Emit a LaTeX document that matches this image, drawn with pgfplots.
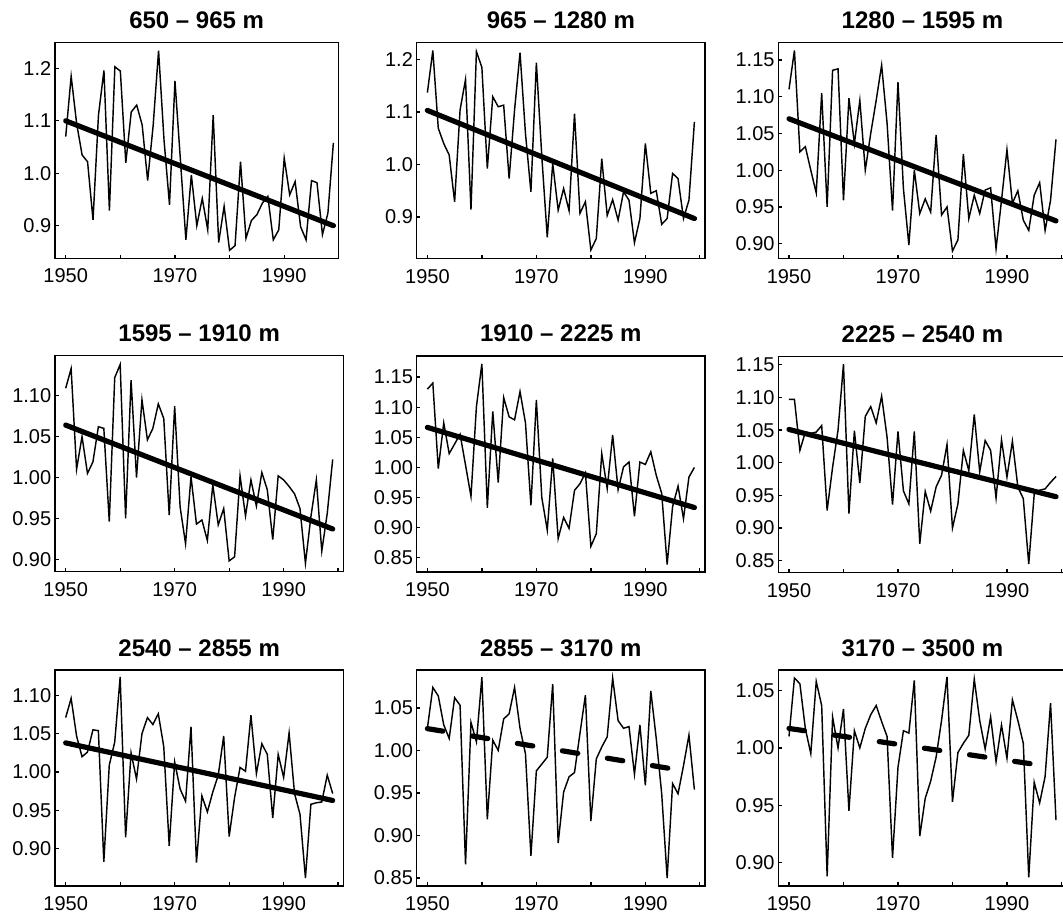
\documentclass[border=0pt]{standalone}
\usepackage{fontspec}
\setmainfont{Liberation Sans}
\usepackage{pgfplots}
\pgfplotsset{compat=1.18}
\usepackage{pgfplotstable}

\pgfplotstableread{
year p1 p2 p3 p4 p5 p6 p7 p8 p9
1950 1.070 1.137 1.110 1.109 1.130 1.097 1.071 1.026 1.010
1951 1.185 1.217 1.163 1.133 1.140 1.097 1.096 1.074 1.061
1952 1.095 1.069 1.025 1.010 0.998 1.019 1.047 1.064 1.056
1953 1.035 1.040 1.032 1.050 1.074 1.047 1.020 1.030 1.017
1954 1.022 1.018 1.000 1.005 1.023 1.045 1.026 1.014 0.995
1955 0.911 0.929 0.969 1.019 1.039 1.047 1.055 1.062 1.058
1956 1.111 1.104 1.105 1.062 1.055 1.057 1.054 1.053 1.037
1957 1.196 1.162 0.950 1.060 1.004 0.927 0.883 0.866 0.888
1958 0.929 0.914 1.136 0.946 0.952 0.993 1.009 1.033 1.027
1959 1.203 1.215 1.138 1.122 1.101 1.050 1.039 1.010 1.000
1960 1.195 1.185 0.959 1.138 1.172 1.151 1.124 1.086 1.034
1961 1.020 0.992 1.098 0.950 0.933 0.922 0.915 0.919 0.945
1962 1.117 1.129 1.036 1.119 1.093 1.049 1.025 1.012 1.015
1963 1.130 1.110 1.095 1.000 0.975 0.969 0.991 1.000 1.000
1964 1.092 1.113 1.000 1.095 1.116 1.071 1.050 1.037 1.017
1965 0.986 0.973 1.050 1.046 1.084 1.086 1.071 1.043 1.029
1966 1.090 1.104 1.095 1.060 1.079 1.061 1.062 1.074 1.037
1967 1.234 1.213 1.143 1.090 1.126 1.102 1.076 1.026 1.023
1968 1.063 1.059 1.064 1.072 1.074 1.039 1.033 0.996 1.010
1969 0.940 0.948 0.945 0.954 0.937 0.936 0.904 0.876 0.904
1970 1.176 1.194 1.120 1.087 1.112 1.048 1.013 0.976 0.983
1971 1.025 1.015 0.975 0.964 0.950 0.957 0.978 0.984 1.015
1972 0.873 0.861 0.898 0.919 0.896 0.937 0.962 0.992 1.013
1973 0.997 1.002 1.000 1.001 1.015 1.048 1.059 1.078 1.059
1974 0.900 0.913 0.941 0.943 0.882 0.876 0.882 0.891 0.923
1975 0.952 0.954 0.961 0.948 0.917 0.956 0.969 0.951 0.956
1976 0.892 0.912 0.943 0.923 0.899 0.926 0.948 0.969 0.971
1977 1.111 1.097 1.048 0.991 0.962 0.963 0.974 0.974 0.992
1978 0.868 0.907 0.939 0.942 0.973 0.981 0.996 1.020 1.024
1979 0.937 0.929 0.950 0.962 0.991 1.028 1.047 1.065 1.062
1980 0.853 0.837 0.890 0.898 0.869 0.900 0.916 0.917 0.953
1981 0.862 0.859 0.905 0.903 0.890 0.937 0.967 0.990 0.996
1982 1.022 1.011 1.022 1.002 1.023 1.019 1.006 1.004 1.004
1983 0.876 0.903 0.934 0.953 0.965 0.988 1.001 1.016 1.011
1984 0.910 0.933 0.966 0.997 1.054 1.074 1.074 1.085 1.060
1985 0.921 0.894 0.941 0.965 0.963 0.986 0.998 1.035 1.024
1986 0.943 0.948 0.973 1.006 1.001 1.034 1.037 1.026 0.999
1987 0.956 0.932 0.976 0.985 1.009 1.019 1.023 1.028 1.027
1988 0.873 0.851 0.893 0.924 0.919 0.946 0.940 0.972 0.988
1989 0.892 0.897 0.959 1.002 1.009 1.035 1.023 1.030 1.020
1990 1.029 1.040 1.028 0.997 1.005 0.978 0.993 0.959 0.991
1991 0.959 0.945 0.955 0.989 1.026 1.033 1.051 1.070 1.042
1992 0.984 0.950 0.972 0.980 0.987 0.963 0.972 1.014 1.024
1993 0.898 0.886 0.932 0.962 0.957 0.945 0.945 0.949 1.004
1994 0.873 0.897 0.918 0.895 0.839 0.845 0.862 0.850 0.887
1995 0.986 0.983 0.966 0.952 0.935 0.952 0.958 0.961 0.970
1996 0.982 0.973 0.983 0.997 0.969 0.958 0.960 0.949 0.952
1997 0.883 0.897 0.918 0.910 0.915 0.960 0.961 0.982 0.975
1998 0.924 0.932 0.959 0.956 0.984 0.970 0.996 1.018 1.039
1999 1.058 1.081 1.042 1.022 1.000 0.979 0.972 0.954 0.937
}\data

\pgfplotsset{
  panel/.style={
    scale only axis,
    width=144.15pt, height=108pt,
    anchor=north west,
    xmin=1948.04, xmax=2000.95,
    xtick={1950,1970,1990},
    minor xtick={1960,1980,2000},
    tick pos=left,
    tick align=inside,
    major tick length=1.8pt,
    minor tick length=1.8pt,
    axis line style={line width=0.65pt},
    every tick/.style={black, line width=0.65pt},
    every minor tick/.style={black, line width=0.65pt},
    tick label style={font=\fontsize{10}{12}\selectfont},
    /pgf/number format/assume math mode=true,
    xticklabel style={anchor=base, yshift=-12.4pt, /pgf/number format/1000 sep={}},
    yticklabel style={anchor=east, inner sep=0pt, xshift=-1.7pt,
      /pgf/number format/fixed, /pgf/number format/fixed zerofill,
      /pgf/number format/precision=2},
    title style={anchor=base, at={(0.5,1)}, yshift=1pt,
      font=\bfseries\fontsize{12}{14}\selectfont},
  },
  dataline/.style={black, line width=0.72pt},
  trend/.style={black, line width=2.6pt, line cap=round},
  dtrend/.style={black, line width=2.6pt, line cap=round, dash pattern=on 7.8pt off 15pt},
}

\begin{document}
\begin{tikzpicture}
\path[use as bounding box] (0,0) rectangle (531.5pt,-456.5pt);

% Row 1
\begin{axis}[panel, at={(27.5pt,-21.1pt)}, width=141.65pt, xmax=1999.9,
  ymin=0.838, ymax=1.25, ytick={0.9,1.0,1.1,1.2},
  yticklabel style={/pgf/number format/precision=1},
  title={650 – 965 m}]
\addplot[dataline] table[x=year,y=p1]{\data};
\addplot[trend] coordinates {(1950,1.100) (1999,0.900)};
\end{axis}

\begin{axis}[panel, at={(208.35pt,-21.35pt)},
  ymin=0.8205, ymax=1.232, ytick={0.9,1.0,1.1,1.2},
  yticklabel style={/pgf/number format/precision=1},
  title={965 – 1280 m}]
\addplot[dataline] table[x=year,y=p2]{\data};
\addplot[trend] coordinates {(1950,1.103) (1999,0.897)};
\end{axis}

\begin{axis}[panel, at={(389.15pt,-21.35pt)},
  ymin=0.8795, ymax=1.1736, ytick={0.90,0.95,1.00,1.05,1.10,1.15},
  title={1280 – 1595 m}]
\addplot[dataline] table[x=year,y=p3]{\data};
\addplot[trend] coordinates {(1950,1.070) (1999,0.931)};
\end{axis}

% Row 2
\begin{axis}[panel, at={(27.5pt,-177.9pt)},
  ymin=0.8847, ymax=1.1487, ytick={0.90,0.95,1.00,1.05,1.10},
  title={1595 – 1910 m}]
\addplot[dataline] table[x=year,y=p4]{\data};
\addplot[trend] coordinates {(1950,1.064) (1999,0.937)};
\end{axis}

\begin{axis}[panel, at={(208.35pt,-178pt)},
  ymin=0.8265, ymax=1.185, ytick={0.85,0.90,0.95,1.00,1.05,1.10,1.15},
  title={1910 – 2225 m}]
\addplot[dataline] table[x=year,y=p5]{\data};
\addplot[trend] coordinates {(1950,1.0665) (1999,0.9335)};
\end{axis}

\begin{axis}[panel, at={(389.15pt,-178.3pt)},
  ymin=0.8318, ymax=1.1626, ytick={0.85,0.90,0.95,1.00,1.05,1.10,1.15},
  title={2225 – 2540 m}]
\addplot[dataline] table[x=year,y=p6]{\data};
\addplot[trend] coordinates {(1950,1.051) (1999,0.948)};
\end{axis}

% Row 3
\begin{axis}[panel, at={(27.5pt,-335pt)},
  ymin=0.8515, ymax=1.133, ytick={0.90,0.95,1.00,1.05,1.10},
  title={2540 – 2855 m}]
\addplot[dataline] table[x=year,y=p7]{\data};
\addplot[trend] coordinates {(1950,1.038) (1999,0.963)};
\end{axis}

\begin{axis}[panel, at={(208.35pt,-335pt)},
  ymin=0.8406, ymax=1.0945, ytick={0.85,0.90,0.95,1.00,1.05},
  title={2855 – 3170 m}]
\addplot[dataline] table[x=year,y=p8]{\data};
\addplot[dtrend] coordinates {(1950,1.0256) (1999,0.974)};
\end{axis}

\begin{axis}[panel, at={(389.15pt,-335pt)},
  ymin=0.8795, ymax=1.068, ytick={0.90,0.95,1.00,1.05},
  title={3170 – 3500 m}]
\addplot[dataline] table[x=year,y=p9]{\data};
\addplot[dtrend] coordinates {(1950,1.017) (1999,0.983)};
\end{axis}
\end{tikzpicture}
\end{document}
